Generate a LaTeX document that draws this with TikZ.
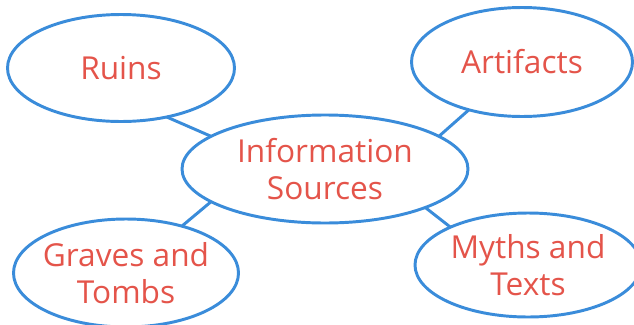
\documentclass[tikz,border=0pt]{standalone}
\usepackage{fontspec}
\setmainfont{Open Sans}
\usetikzlibrary{shapes.geometric}
\definecolor{bubbleblue}{RGB}{58,140,218}
\definecolor{labelred}{RGB}{228,84,74}
\tikzstyle{topic} = [ellipse, draw=bubbleblue, line width=2.1pt, inner sep=-8pt, outer sep=0pt, text=labelred, align=center, font=\fontsize{22.5}{26.5}\selectfont]
\tikzstyle{line} = [draw=bubbleblue, line width=2.1pt]

\begin{document}
\begin{tikzpicture}
	\clip (0,0) rectangle (15.85,8.1);
	\node (info) at (8.125,3.875) [topic, minimum width=7.15cm, minimum height=2.7cm] {Information\\Sources};
	\node (ruins) at (3.025,6.4) [topic, minimum width=5.675cm, minimum height=2.675cm] {Ruins};
	\node (artifacts) at (13.05,6.55) [topic, minimum width=5.525cm, minimum height=2.725cm] {Artifacts};
	\node (graves) at (3.15,1.275) [topic, minimum width=5.625cm, minimum height=2.7cm] {Graves and\\Tombs};
	\node (myths) at (13.2,1.475) [topic, minimum width=5.65cm, minimum height=2.6cm] {Myths and\\Texts};
	\path[line](ruins.-47) -- (info.164);
	\path[line](artifacts.-138) -- (info.16);
	\path[line](graves.40) -- (info.-164);
	\path[line](myths.154) -- (info.-21);
\end{tikzpicture}
\end{document}
